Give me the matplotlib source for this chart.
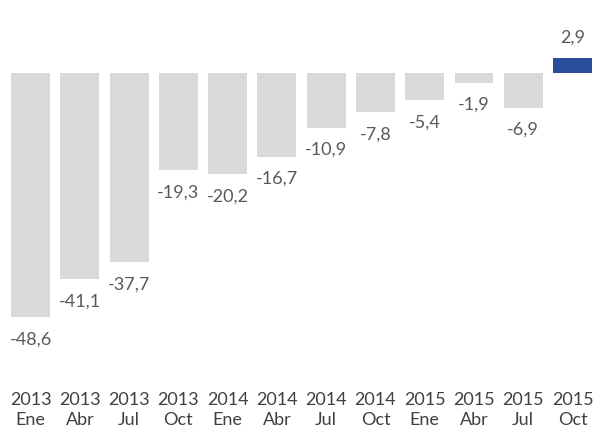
import matplotlib
matplotlib.use("Agg")
import matplotlib.pyplot as plt

years = ["2013", "2013", "2013", "2013", "2014", "2014", "2014", "2014", "2015", "2015", "2015", "2015"]
months = ["Ene", "Abr", "Jul", "Oct", "Ene", "Abr", "Jul", "Oct", "Ene", "Abr", "Jul", "Oct"]
values = [-48.6, -41.1, -37.7, -19.3, -20.2, -16.7, -10.9, -7.8, -5.4, -1.9, -6.9, 2.9]

plt.rcParams['font.family'] = ['Lato', 'DejaVu Sans']

fig = plt.figure(figsize=(5.93, 4.32), dpi=100)
ax = fig.add_axes([0.01, 0.192, 0.997, 0.7086])

colors = ['#D9D9D9'] * (len(values) - 1) + ['#2B4C9B']
x = list(range(len(values)))
bars = ax.bar(x, values, width=0.79, color=colors)

for xi, v in zip(x, values):
    label = f"{v:.1f}".replace('.', ',')
    off = 15 if v > 0 else -16
    ax.annotate(label, (xi, v), xytext=(0, off), textcoords='offset points',
                ha='center', va='center', fontsize=13, color='#595959')

ax.set_xlim(-0.5, len(values) - 0.5)
ax.set_ylim(-55, 6)
ax.set_xticks(x)
ax.set_xticklabels([f"{y}\n{m}" for y, m in zip(years, months)], fontsize=13,
                   color='#404040', linespacing=1.3)
ax.tick_params(axis='x', length=0, pad=31)
ax.set_yticks([])
for s in ax.spines.values():
    s.set_visible(False)

fig.savefig("out.png", dpi=100)
